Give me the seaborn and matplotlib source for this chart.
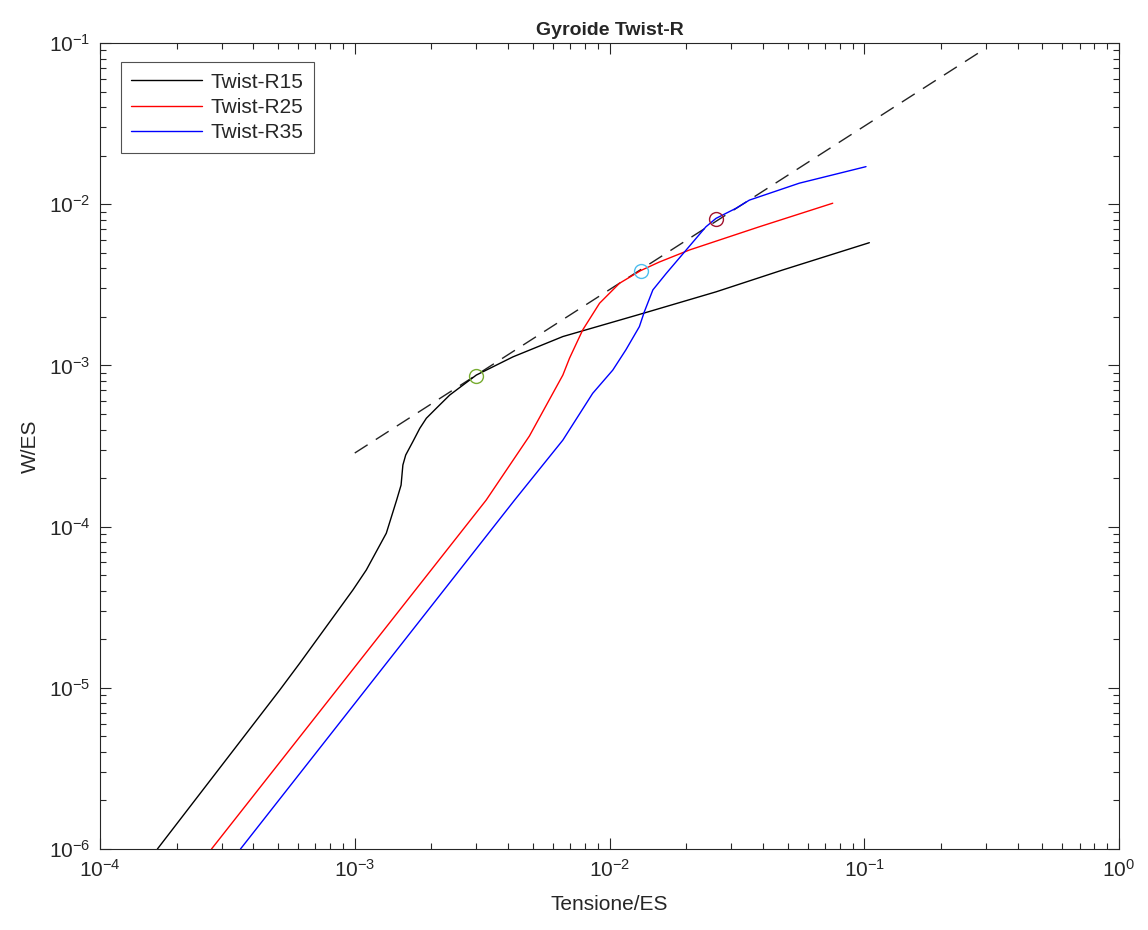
import numpy as np
import pandas as pd
import matplotlib
matplotlib.use("Agg")
import matplotlib.pyplot as plt
import matplotlib.ticker as mticker
import seaborn as sns

# ---- data (log-log axes) ----
r15_x = [1.68e-4, 5.08e-4, 6.08e-4, 9.84e-4, 1.11e-3, 1.33e-3, 1.46e-3, 1.52e-3,
         1.545e-3, 1.585e-3, 1.69e-3, 1.80e-3, 1.91e-3, 2.09e-3, 2.36e-3, 3.00e-3,
         4.18e-3, 6.56e-3, 1.35e-2, 2.62e-2, 4.79e-2, 0.1047]
r15_y = [1.0e-6, 9.7e-6, 1.42e-5, 4.05e-5, 5.38e-5, 9.1e-5, 1.46e-4, 1.81e-4,
         2.41e-4, 2.78e-4, 3.36e-4, 4.07e-4, 4.70e-4, 5.42e-4, 6.55e-4, 8.71e-4,
         1.13e-3, 1.51e-3, 2.10e-3, 2.86e-3, 3.91e-3, 5.77e-3]

r25_x = [2.74e-4, 3.28e-3, 4.85e-3, 6.56e-3, 6.97e-3, 7.85e-3, 9.14e-3, 1.094e-2,
         1.324e-2, 1.57e-2, 2.06e-2, 3.87e-2, 7.52e-2]
r25_y = [1.0e-6, 1.46e-4, 3.65e-4, 8.71e-4, 1.11e-3, 1.66e-3, 2.43e-3, 3.23e-3,
         3.87e-3, 4.38e-3, 5.20e-3, 7.24e-3, 1.014e-2]

r35_x = [3.56e-4, 4.24e-3, 6.56e-3, 8.59e-3, 1.03e-2, 1.16e-2, 1.31e-2, 1.37e-2,
         1.48e-2, 1.67e-2, 2.00e-2, 2.39e-2, 2.62e-2, 3.14e-2, 3.54e-2, 5.56e-2,
         0.1016]
r35_y = [1.0e-6, 1.46e-4, 3.44e-4, 6.71e-4, 9.35e-4, 1.25e-3, 1.74e-3, 2.15e-3,
         2.94e-3, 3.72e-3, 5.20e-3, 7.24e-3, 8.17e-3, 9.44e-3, 1.06e-2, 1.35e-2,
         1.71e-2]

series_names = ["Twist-R15", "Twist-R25", "Twist-R35"]
series_colors = ["#000000", "#ff0000", "#0000ff"]

fit_x = [1.0e-3, 0.288]
fit_y = [2.86e-4, 0.089]

mark_x = [2.99e-3, 1.325e-2, 2.62e-2]
mark_y = [8.59e-4, 3.87e-3, 8.09e-3]
mark_colors = ["#77ac30", "#4dbeee", "#a2142f"]

title = "Gyroide Twist-R"
xlabel = "Tensione/ES"
ylabel = "W/ES"

# ---- build long table ----
frames = []
for name, xs, ys in zip(series_names, [r15_x, r25_x, r35_x], [r15_y, r25_y, r35_y]):
    frames.append(pd.DataFrame({"x": xs, "y": ys, "serie": name}))
df = pd.concat(frames, ignore_index=True)

sns.set_theme(style="white")
plt.rcParams["font.family"] = ["Liberation Sans", "DejaVu Sans"]
plt.rcParams["mathtext.fontset"] = "custom"
plt.rcParams["mathtext.rm"] = "Liberation Sans"
plt.rcParams["mathtext.it"] = "Liberation Sans:italic"

fig = plt.figure(figsize=(11.48, 9.30), dpi=100)
ax = fig.add_axes([100 / 1148, 1 - 849 / 930, 1019 / 1148, 806 / 930])

sns.lineplot(data=df, x="x", y="y", hue="serie", palette=dict(zip(series_names, series_colors)),
             sort=False, estimator=None, linewidth=1.0, ax=ax)
ax.plot(fit_x, fit_y, linestyle=(0, (11, 7)), color="#222222", linewidth=1.0, zorder=1)
for mx, my, mc in zip(mark_x, mark_y, mark_colors):
    ax.plot([mx], [my], marker="o", markersize=10, markerfacecolor="none",
            markeredgecolor=mc, markeredgewidth=1.0, linestyle="none", zorder=5)

ax.set_xscale("log")
ax.set_yscale("log")
ax.set_xlim(1e-4, 1e0)
ax.set_ylim(1e-6, 1e-1)
ax.xaxis.set_major_locator(mticker.LogLocator(base=10, numticks=10))
ax.yaxis.set_major_locator(mticker.LogLocator(base=10, numticks=10))
ax.xaxis.set_minor_locator(mticker.LogLocator(base=10, subs=np.arange(2, 10), numticks=20))
ax.yaxis.set_minor_locator(mticker.LogLocator(base=10, subs=np.arange(2, 10), numticks=20))
ax.xaxis.set_minor_formatter(mticker.NullFormatter())
ax.yaxis.set_minor_formatter(mticker.NullFormatter())

ax.tick_params(which="both", direction="in", top=True, right=True, bottom=True, left=True,
               colors="#262626", labelcolor="#262626", labelsize=15)
ax.tick_params(which="major", length=8, width=0.8, pad=7)
ax.tick_params(which="minor", length=4, width=0.8)
for sp in ax.spines.values():
    sp.set_visible(True)
    sp.set_color("#262626")
    sp.set_linewidth(0.8)

ax.set_title(title, fontsize=14, fontweight="bold", pad=6)
ax.set_xlabel(xlabel, fontsize=15, color="#262626", labelpad=10)
ax.set_ylabel(ylabel, fontsize=15, color="#262626", labelpad=6)
ax.grid(False)

handles, labels = ax.get_legend_handles_labels()
leg = ax.legend(handles[:3], labels[:3], loc="upper left", bbox_to_anchor=(0.0205, 0.976),
                frameon=True, fancybox=False, edgecolor="#262626", fontsize=15,
                handlelength=3.4, handletextpad=0.4, borderpad=0.5, labelspacing=0.3,
                borderaxespad=0)
leg.get_frame().set_linewidth(0.8)
for h in leg.get_lines():
    h.set_linewidth(1.0)

fig.savefig("out.png", dpi=100, facecolor="white")
